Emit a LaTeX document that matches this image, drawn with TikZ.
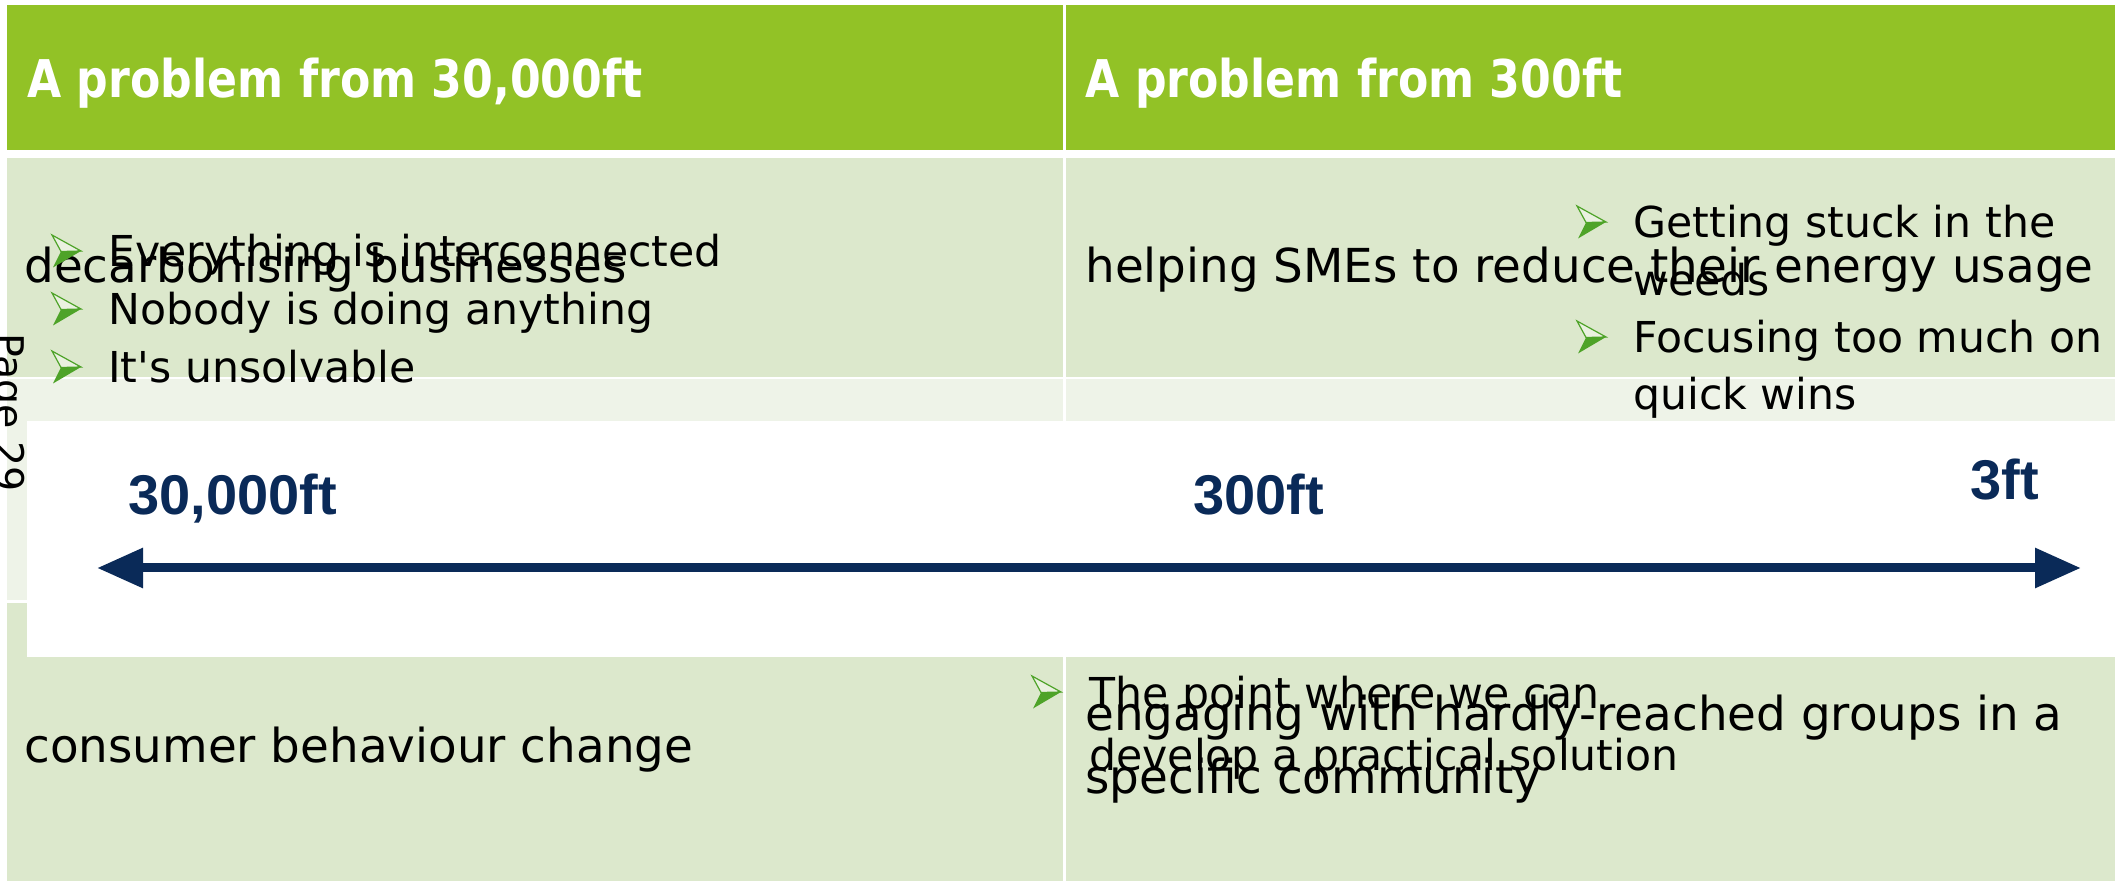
\documentclass[tikz,border=0pt]{standalone}
\usepackage{fontspec}
\setmainfont{DejaVu Sans}[Ligatures=TeXOff]
\newfontfamily\headfont[FakeStretch=0.85]{DejaVu Sans}
\newfontfamily\labfont{Liberation Sans}
\usetikzlibrary{arrows.meta}
\definecolor{hdrgreen}{RGB}{146,194,38}
\definecolor{rowA}{RGB}{220,232,204}
\definecolor{rowB}{RGB}{238,243,232}
\definecolor{bulgreen}{RGB}{78,163,40}
\definecolor{navy}{RGB}{10,42,88}
\tikzset{
  cellA/.style={fill=rowA},
  cellB/.style={fill=rowB},
  cellH/.style={fill=hdrgreen},
  hdrtext/.style={inner sep=0pt, anchor=base west, text=white, font=\headfont\bfseries\fontsize{26pt}{31pt}\selectfont},
  bodytext/.style={inner sep=0pt, anchor=base west, text=black, font=\fontsize{23.4pt}{28pt}\selectfont},
  bultext/.style={inner sep=0pt, anchor=base west, text=black, font=\fontsize{21.3pt}{26pt}\selectfont},
  scaletext/.style={inner sep=0pt, anchor=base west, text=navy, font=\labfont\bfseries\fontsize{28pt}{33pt}\selectfont},
  scalearrow/.style={draw=navy, line width=4.5pt, {Triangle[length=23pt,width=19pt]}-{Triangle[length=23pt,width=19pt]}},
}
\newcommand{\bularrow}[2]{%
  \filldraw[draw=bulgreen, fill=rowA!60!white, line width=0.6pt, line join=miter]
    (#1,#2) -- (#1+29,#2+16) -- (#1+9,#2+16.5) -- cycle;
  \fill[bulgreen] (#1+9,#2+16.5) -- (#1+29,#2+16) -- (#1+1,#2+32.5) -- cycle;
}
\begin{document}
\begin{tikzpicture}[x=0.5pt,y=-0.5pt]
\clip (0,0) rectangle (2115,881);
\fill[white] (0,0) rectangle (2115,881);
% table cells
\fill[cellH] (7,5) rectangle (1063,150);
\fill[cellH] (1065.5,5) rectangle (2115,150);
\fill[cellA] (7,158) rectangle (1063,376.7);
\fill[cellA] (1065.5,158) rectangle (2115,376.7);
\fill[cellB] (7,379.3) rectangle (1063,600);
\fill[cellB] (1065.5,379.3) rectangle (2115,600);
\fill[cellA] (7,603) rectangle (1063,881);
\fill[cellA] (1065.5,603) rectangle (2115,881);
% header
\node[hdrtext] (h1) at (27,98) {A problem from 30,000ft};
\node[hdrtext] (h2) at (1085,98) {A problem from 300ft};
% row 1
\node[bodytext] (r1l) at (24,283) {decarbonising businesses};
\node[bodytext] (r1r) at (1085,283) {helping SMEs to reduce their energy usage};
\bularrow{52}{235}
\node[bultext] (b1) at (108,267) {Everything is interconnected};
\bularrow{52}{293}
\node[bultext] (b2) at (108,325) {Nobody is doing anything};
\bularrow{52}{351}
\node[bultext] (b3) at (108,383) {It's unsolvable};
\bularrow{1577}{206}
\node[bultext] (b4) at (1633,238) {Getting stuck in the};
\node[bultext] (b4b) at (1633,295.5) {weeds};
\bularrow{1577}{321}
\node[bultext] (b5) at (1633,353) {Focusing too much on};
\node[bultext] (b5b) at (1633,410) {quick wins};
% row 3
\node[bodytext] (r3l) at (24,762) {consumer behaviour change};
\node[bodytext] (r3r) at (1085,730) {engaging with hardly-reached groups in a};
\node[bodytext] (r3r2) at (1085,793) {specific community};
\bularrow{1032}{676}
\node[bultext] (b6) at (1089,708) {The point where we can};
\node[bultext] (b6b) at (1089,770) {develop a practical solution};
% page mark
\node[inner sep=0pt, anchor=base west, rotate=-90, font=\fontsize{19.75pt}{24pt}\selectfont] (pg) at (-4,333) {Page 29};
% scale image
\fill[white] (27,421) rectangle (2115,657);
\node[scaletext] (s1) at (128,515) {30,000ft};
\node[scaletext] (s2) at (1193,515) {300ft};
\node[scaletext] (s3) at (1970,500) {3ft};
\coordinate (aL) at (97,568);
\coordinate (aR) at (2081,568);
\draw[scalearrow] (aL) -- (aR);
\end{tikzpicture}
\end{document}
